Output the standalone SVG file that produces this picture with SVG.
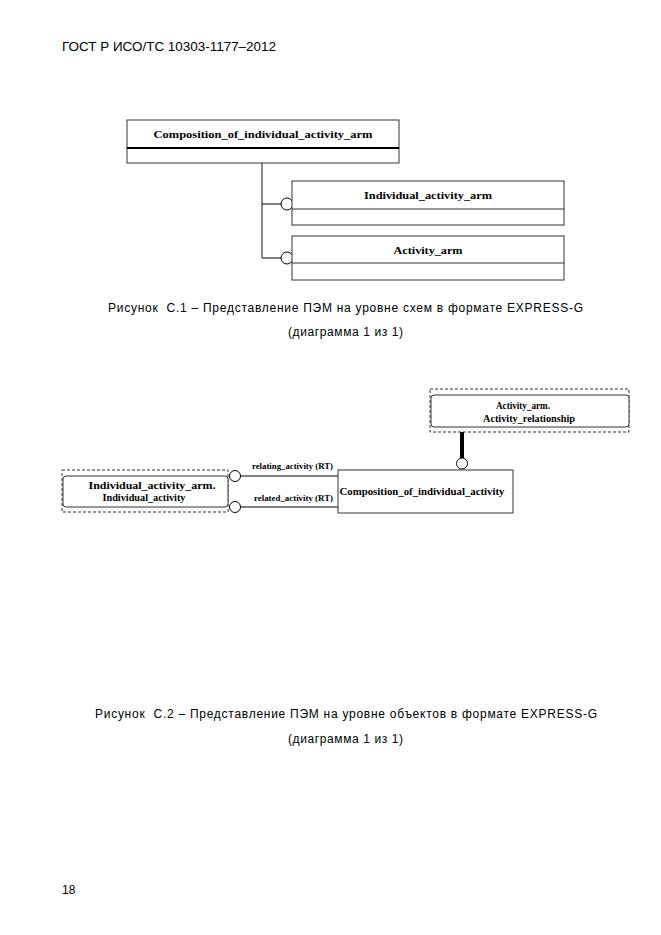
<svg xmlns="http://www.w3.org/2000/svg" width="661" height="935" viewBox="0 0 661 935">
<style>
.bg{fill:#ffffff}
.box{fill:#ffffff;stroke:#333333;stroke-width:1}
.div{stroke:#000000;stroke-width:2}
.divt{stroke:#333333;stroke-width:1}
.dash{fill:none;stroke:#333333;stroke-width:1;stroke-dasharray:3,2}
.rnd{fill:#ffffff;stroke:#333333;stroke-width:1}
.ln{stroke:#000000;stroke-width:1;fill:none}
.lng{stroke:#666666;stroke-width:1.5;fill:none}
.thick{stroke:#000000;stroke-width:4;fill:none}
.circ{fill:#ffffff;stroke:#000000;stroke-width:1}
.t1{font-family:"Liberation Serif",serif;font-weight:bold;font-size:11px;fill:#000000;text-anchor:middle}
.t2{font-family:"Liberation Serif",serif;font-weight:bold;font-size:10px;fill:#000000;text-anchor:middle}
.t3{font-family:"Liberation Serif",serif;font-weight:bold;font-size:8px;fill:#000000}
.cap{font-family:"Liberation Sans",Arial,sans-serif;font-size:12px;fill:#000000}
</style>
<rect class="bg" x="0" y="0" width="661" height="935"/>
<text class="cap" x="62" y="51" font-size="13" textLength="214" lengthAdjust="spacingAndGlyphs">ГОСТ Р ИСО/ТС 10303-1177–2012</text>

<g id="connectors">
<line class="lng" x1="262" y1="163" x2="262" y2="258"/>
<line class="ln" x1="262" y1="204" x2="281" y2="204"/>
<line class="ln" x1="262" y1="258" x2="281" y2="258"/>
<circle class="circ" cx="287" cy="204" r="6"/>
<circle class="circ" cx="287" cy="258" r="6"/>
<line class="ln" x1="240.5" y1="476" x2="338" y2="476"/>
<line class="ln" x1="240.5" y1="507" x2="338" y2="507"/>
<circle class="circ" cx="235" cy="476" r="5.5"/>
<circle class="circ" cx="235" cy="507" r="5.5"/>
<text class="t3" x="252" y="469" textLength="81" lengthAdjust="spacingAndGlyphs">relating_activity (RT)</text>
<text class="t3" x="254" y="501" textLength="79" lengthAdjust="spacingAndGlyphs">related_activity (RT)</text>
<line class="thick" x1="462" y1="432" x2="462" y2="458"/>
<circle class="circ" cx="462" cy="463.5" r="5.5"/>
</g>

<g id="composition_of_individual_activity_arm">
<rect class="box" x="127" y="120" width="272" height="43"/>
<line class="div" x1="127" y1="148" x2="399" y2="148"/>
<text class="t1" x="263" y="138" textLength="219" lengthAdjust="spacingAndGlyphs">Composition_of_individual_activity_arm</text>
</g>
<g id="individual_activity_arm">
<rect class="box" x="292" y="181" width="272" height="44"/>
<line class="divt" x1="292" y1="209" x2="564" y2="209"/>
<text class="t1" x="428" y="199" textLength="128" lengthAdjust="spacingAndGlyphs">Individual_activity_arm</text>
</g>
<g id="activity_arm">
<rect class="box" x="292" y="236" width="272" height="44"/>
<line class="divt" x1="292" y1="263" x2="564" y2="263"/>
<text class="t1" x="428" y="254" textLength="69" lengthAdjust="spacingAndGlyphs">Activity_arm</text>
</g>
<text class="cap" x="108" y="312" textLength="475" lengthAdjust="spacing" xml:space="preserve">Рисунок  С.1 – Представление ПЭМ на уровне схем в формате EXPRESS-G</text>
<text class="cap" x="288" y="336" textLength="115" lengthAdjust="spacing">(диаграмма 1 из 1)</text>

<g id="individual_activity">
<rect class="dash" x="62" y="470" width="166" height="42"/>
<rect class="rnd" x="63" y="476" width="165" height="31" rx="3"/>
<text class="t2" x="152" y="489" textLength="127" lengthAdjust="spacingAndGlyphs">Individual_activity_arm.</text>
<text class="t2" x="144" y="501" textLength="83" lengthAdjust="spacingAndGlyphs">Individual_activity</text>
</g>
<g id="activity_relationship">
<rect class="dash" x="430" y="389" width="199" height="43"/>
<rect class="rnd" x="431" y="395" width="198" height="32" rx="3"/>
<text class="t2" x="523" y="409" textLength="54" lengthAdjust="spacingAndGlyphs">Activity_arm.</text>
<text class="t2" x="529" y="422" textLength="92" lengthAdjust="spacingAndGlyphs">Activity_relationship</text>
</g>
<g id="composition_of_individual_activity">
<rect class="box" x="338" y="470" width="175" height="43"/>
<text class="t2" x="422" y="495" textLength="165" lengthAdjust="spacingAndGlyphs">Composition_of_individual_activity</text>
</g>

<text class="cap" x="95" y="718" textLength="502" lengthAdjust="spacing" xml:space="preserve">Рисунок  С.2 – Представление ПЭМ на уровне объектов в формате EXPRESS-G</text>
<text class="cap" x="288" y="743" textLength="115" lengthAdjust="spacing">(диаграмма 1 из 1)</text>
<text class="cap" x="62" y="894">18</text>
</svg>
